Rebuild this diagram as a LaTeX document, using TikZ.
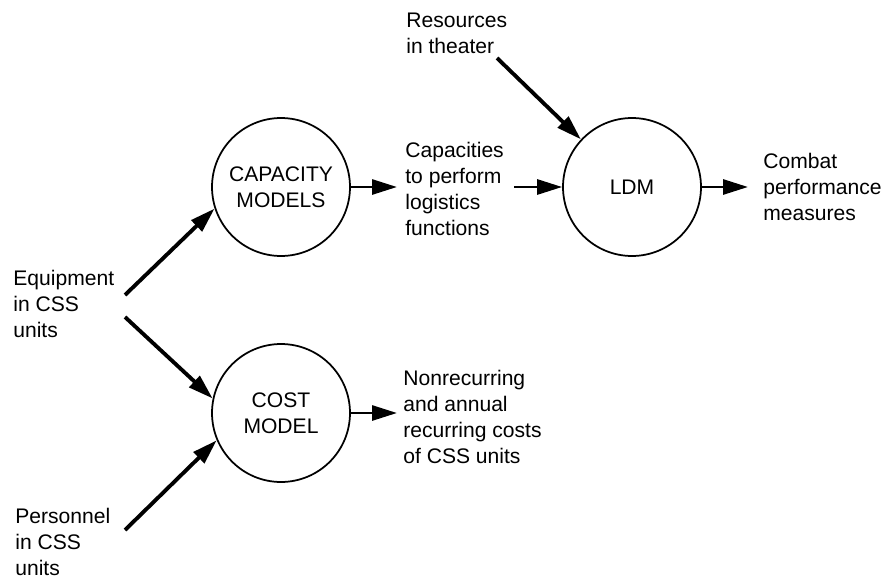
\documentclass[tikz,border=0pt]{standalone}
\usepackage{fontspec}
\setmainfont{Liberation Sans}
\usetikzlibrary{arrows.meta}
\tikzset{font={\fontsize{12pt}{14.7pt}\selectfont}}
\tikzset{
  model/.style={draw, circle, line width=1pt, minimum size=2.76cm, inner sep=0pt, align=center},
  txt/.style={anchor=north west, inner sep=0pt, align=left},
  flow/.style={-{Triangle[length=0.5cm,width=0.3cm]}, line width=1.6pt},
  feed/.style={flow, line width=2.2pt}
}
\begin{document}
\begin{tikzpicture}[x=0.02cm, y=-0.02cm]
		\useasboundingbox (0,0) rectangle (885,578);
		%Models
		\node[model] (cap) at (281,187) {CAPACITY\\MODELS};
		\node[model] (ldm) at (632,187) {LDM};
		\node[model] (cost) at (281,413) {COST\\MODEL};
		%Inputs and outputs
		\node[txt] (res) at (406,13) {Resources\\in theater};
		\node[txt] (capout) at (405,142) {Capacities\\to perform\\logistics\\functions};
		\node[txt] (combat) at (763,153) {Combat\\performance\\measures};
		\node[txt] (equip) at (13,270) {Equipment\\in CSS\\units};
		\node[txt] (costout) at (403,370) {Nonrecurring\\and annual\\recurring costs\\of CSS units};
		\node[txt] (pers) at (15,508) {Personnel\\in CSS\\units};
		%Arrow tails
		\coordinate (resT) at (497,58);
		\coordinate (eqT1) at (125,295);
		\coordinate (eqT2) at (125,317);
		\coordinate (perT) at (125,530);
		%Slanted arrows
		\draw[feed] (resT) -- (ldm.137);
		\draw[feed] (eqT1) -- (cap.198);
		\draw[feed] (eqT2) -- (cost.168);
		\draw[feed] (perT) -- (cost.203);
		%Straight arrows
		\draw[flow, shorten >=0.16cm] (cap.east) -- (cap.east -| capout.west);
		\draw[flow] ([xshift=0.2cm]capout.east |- ldm.west) -- (ldm.west);
		\draw[flow, shorten >=0.3cm] (ldm.east) -- (ldm.east -| combat.west);
		\draw[flow, shorten >=0.12cm] (cost.east) -- (cost.east -| costout.west);
\end{tikzpicture}
\end{document}
